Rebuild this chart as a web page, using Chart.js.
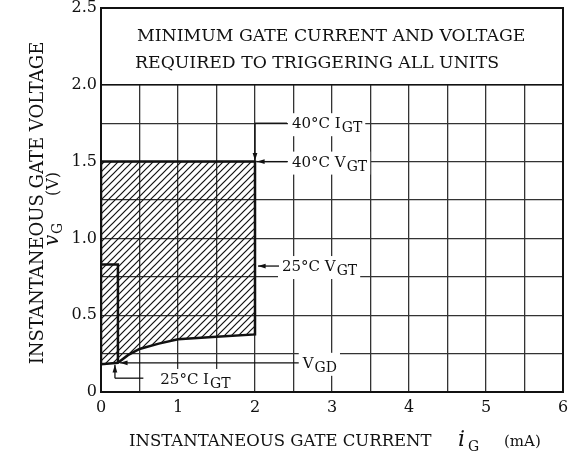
<!DOCTYPE html>
<html>
<head>
<meta charset="utf-8">
<script src="https://cdn.jsdelivr.net/npm/chart.js@4/dist/chart.umd.min.js"></script>
<style>
  html, body { margin: 0; background: #fff; }
  #wrap { width: 574px; height: 459px; position: relative; }
</style>
</head>
<body>
<div id="wrap"><canvas id="chart"></canvas></div>
<script>
// axis ticks (mA / V)
const xLabels = [0, 1, 2, 3, 4, 5, 6];
const yLabels = [0, 0.5, 1.0, 1.5, 2.0, 2.5];

// hatched trigger region outline
const regionI = [0, 0, 2, 2, 1.5, 1, 0.75, 0.5, 0.35, 0.22, 0];
const regionV = [0.18, 1.5, 1.5, 0.375, 0.36, 0.344, 0.315, 0.28, 0.24, 0.19, 0.18];

// 25°C step inside the region
const stepI = [0, 0.22, 0.22];
const stepV = [0.83, 0.83, 0.19];

const SERIF = '"DejaVu Serif", "Liberation Serif", serif';

function hatch() {
  const c = document.createElement("canvas");
  c.width = 7; c.height = 7;
  const g = c.getContext("2d");
  g.strokeStyle = "#111";
  g.lineWidth = 1.2;
  g.beginPath();
  g.moveTo(0, 7); g.lineTo(7, 0);
  g.moveTo(-1, 1); g.lineTo(1, -1);
  g.moveTo(6, 8); g.lineTo(8, 6);
  g.stroke();
  return document.getElementById("chart").getContext("2d").createPattern(c, "repeat");
}

// text with subscripts: parts = [[text, isSub], ...]
function label(ctx, x, y, parts, size, bg) {
  size = size || 15;
  ctx.save();
  ctx.textBaseline = "alphabetic";
  ctx.textAlign = "left";
  let w = 0;
  parts.forEach(p => {
    ctx.font = (p[1] ? size - 1 : size) + "px " + SERIF;
    w += ctx.measureText(p[0]).width;
  });
  if (bg) {
    ctx.fillStyle = "#fff";
    ctx.fillRect(x - 4, y - size, w + 8, size + 8);
  }
  ctx.fillStyle = "#111";
  parts.forEach(p => {
    ctx.font = (p[1] ? size - 1 : size) + "px " + SERIF;
    ctx.fillText(p[0], x, p[1] ? y + 4 : y);
    x += ctx.measureText(p[0]).width + (p[1] ? 0 : 1);
  });
  ctx.restore();
  return w;
}

function arrow(ctx, x1, y1, x2, y2) {
  // line from (x1,y1) to tip (x2,y2)
  ctx.beginPath();
  ctx.moveTo(x1, y1); ctx.lineTo(x2, y2);
  ctx.stroke();
  const a = Math.atan2(y2 - y1, x2 - x1), L = 8, s = 0.3;
  ctx.beginPath();
  ctx.moveTo(x2, y2);
  ctx.lineTo(x2 - L * Math.cos(a - s), y2 - L * Math.sin(a - s));
  ctx.lineTo(x2 - L * Math.cos(a + s), y2 - L * Math.sin(a + s));
  ctx.closePath();
  ctx.fill();
}

const frame = {
  id: "frame",
  beforeDatasetsDraw(chart) {
    const { ctx, chartArea: a, scales: { y } } = chart;
    // blank box above 2.0 V for the note
    ctx.save();
    ctx.fillStyle = "#fff";
    ctx.fillRect(a.left, y.getPixelForValue(2.5), a.right - a.left, y.getPixelForValue(2.0) - y.getPixelForValue(2.5));
    ctx.restore();
  },
  afterDatasetsDraw(chart) {
    const { ctx, chartArea: a, scales: { x, y } } = chart;
    const X = v => x.getPixelForValue(v), Y = v => y.getPixelForValue(v);
    ctx.save();
    ctx.strokeStyle = "#111";
    ctx.fillStyle = "#111";
    ctx.lineWidth = 2;
    ctx.strokeRect(a.left, a.top, a.right - a.left, a.bottom - a.top);
    ctx.lineWidth = 1.5;
    ctx.beginPath();
    ctx.moveTo(a.left, Y(2.0)); ctx.lineTo(a.right, Y(2.0));
    ctx.stroke();

    // note in the box
    ctx.font = "17.3px " + SERIF;
    ctx.textBaseline = "alphabetic";
    ctx.fillText("MINIMUM GATE CURRENT AND VOLTAGE", a.left + 36, Y(2.5) + 33);
    ctx.fillText("REQUIRED TO TRIGGERING ALL UNITS", a.left + 34, Y(2.5) + 60);

    ctx.lineWidth = 1.3;
    // -40°C IGT
    const cx = X(2), cy = Y(1.5), ly = Y(1.75);
    label(ctx, cx + 37, ly + 5, [["40°C I", false], ["GT", true]], 15, true);
    ctx.beginPath(); ctx.moveTo(cx + 32, ly); ctx.lineTo(cx, ly); ctx.stroke();
    arrow(ctx, cx, ly, cx, cy - 1);
    // -40°C VGT
    label(ctx, cx + 37, cy + 5, [["40°C V", false], ["GT", true]], 15, true);
    arrow(ctx, cx + 32, cy, cx + 2, cy);
    // 25°C VGT
    const vy = Y(0.82);
    label(ctx, cx + 27, vy + 5, [["25°C V", false], ["GT", true]], 15, true);
    arrow(ctx, cx + 24, vy, cx + 3, vy);
    // VGD
    const gx = X(0.22), gy = Y(0.19);
    label(ctx, X(2.62), gy + 5, [["V", false], ["GD", true]], 15, true);
    arrow(ctx, X(2.62) - 4, gy, gx + 2, gy);
    // 25°C IGT
    const by = Y(0.09);
    ctx.fillStyle = "#fff";
    ctx.fillRect(X(0.63), Y(0.15), X(2) - X(0.63) - 1, Y(0) - Y(0.15) - 1);
    label(ctx, X(0.77), by + 6, [["25°C I", false], ["GT", true]], 15, false);
    ctx.fillStyle = "#111";
    ctx.beginPath(); ctx.moveTo(X(0.55), by); ctx.lineTo(gx - 3, by); ctx.stroke();
    arrow(ctx, gx - 3, by, gx - 3, gy + 2);

    // axis titles
    ctx.font = "16.5px " + SERIF;
    ctx.fillText("INSTANTANEOUS GATE CURRENT", 129, 446);
    ctx.font = "italic 22px " + SERIF;
    ctx.fillText("i", 458, 446);
    ctx.font = "14px " + SERIF;
    ctx.fillText("G", 468, 451);
    ctx.font = "15px " + SERIF;
    ctx.fillText("(mA)", 504, 446);

    ctx.rotate(-Math.PI / 2);
    ctx.textAlign = "center";
    ctx.font = "18px " + SERIF;
    ctx.fillText("INSTANTANEOUS GATE VOLTAGE", -203, 43);
    ctx.textAlign = "left";
    ctx.font = "italic 20px " + SERIF;
    ctx.fillText("v", -246, 58);
    ctx.font = "14px " + SERIF;
    ctx.fillText("G", -234, 62);
    ctx.font = "16px " + SERIF;
    ctx.fillText("(V)", -196, 58);
    ctx.restore();
  }
};

new Chart(document.getElementById("chart"), {
  type: "scatter",
  data: {
    datasets: [
      {
        data: regionI.map((v, i) => ({ x: v, y: regionV[i] })),
        showLine: true,
        fill: "shape",
        backgroundColor: hatch(),
        borderColor: "#111",
        borderWidth: 2.5,
        pointRadius: 0,
        tension: 0
      },
      {
        data: stepI.map((v, i) => ({ x: v, y: stepV[i] })),
        showLine: true,
        fill: false,
        borderColor: "#111",
        borderWidth: 2.5,
        pointRadius: 0
      }
    ]
  },
  options: {
    responsive: true,
    maintainAspectRatio: false,
    animation: false,
    events: [],
    layout: { padding: { top: 8, right: 11, left: 0, bottom: 0 } },
    plugins: { legend: { display: false }, tooltip: { enabled: false } },
    scales: {
      x: {
        type: "linear",
        min: 0, max: 6,
        afterFit: s => { s.height = 67; s.paddingLeft = 0; s.paddingRight = 0; },
        ticks: {
          stepSize: 0.5,
          autoSkip: false,
          maxRotation: 0,
          padding: 8,
          color: "#111",
          font: { family: SERIF, size: 16, lineHeight: 1 },
          callback: v => xLabels.includes(v) ? String(v) : ""
        },
        grid: { color: "#333", lineWidth: 1.3, drawTicks: false },
        border: { color: "#111", width: 2 }
      },
      y: {
        min: 0, max: 2.5,
        afterFit: s => { s.width = 101; s.paddingTop = 0; s.paddingBottom = 0; },
        ticks: {
          stepSize: 0.25,
          autoSkip: false,
          padding: 4,
          color: "#111",
          font: { family: SERIF, size: 16, lineHeight: 1 },
          callback: v => yLabels.includes(v) ? (v === 0 ? "0" : v.toFixed(1)) : ""
        },
        grid: { color: "#333", lineWidth: 1.3, drawTicks: false },
        border: { color: "#111", width: 2 }
      }
    }
  },
  plugins: [frame]
});
</script>
</body>
</html>
